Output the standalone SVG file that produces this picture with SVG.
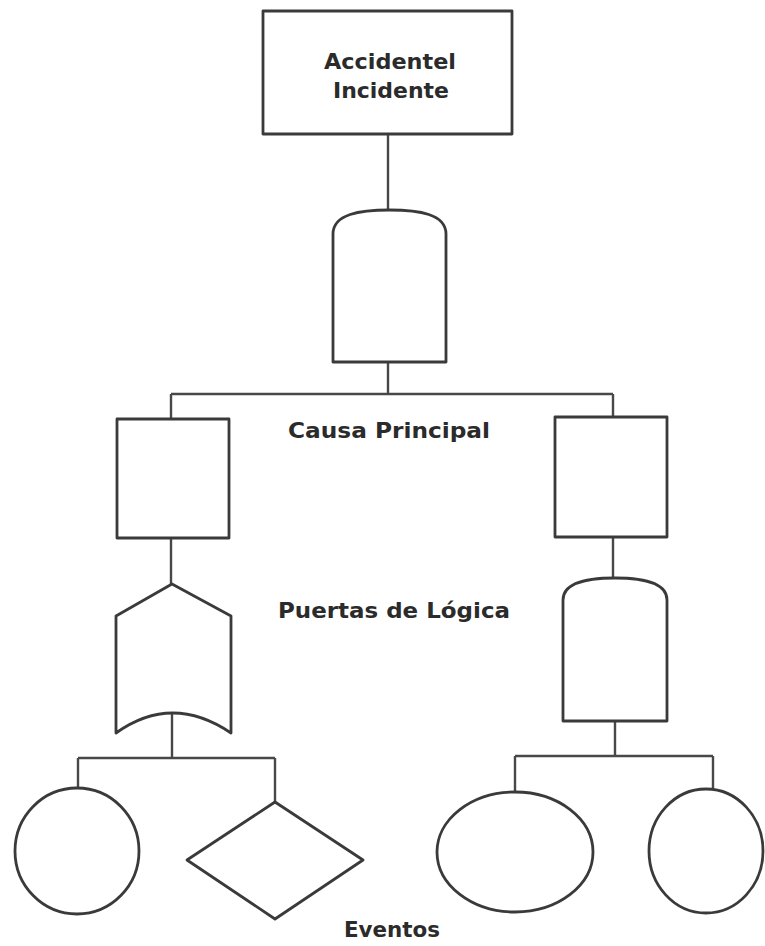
<svg xmlns="http://www.w3.org/2000/svg" width="765" height="946" viewBox="0 0 765 946">
<style>
.shape{fill:#fff;stroke:#3a3a3a;stroke-width:2.8;stroke-linejoin:round}
.conn{fill:none;stroke:#484848;stroke-width:2.4}
.lbl{font-family:"DejaVu Sans",sans-serif;font-weight:bold;fill:#2b2b2b;font-size:21px}
</style>
<rect width="765" height="946" fill="#fff"/>
<g id="connectors">
<path class="conn" d="M388,134 V210 M388,362 V394 M171,394 H613 M171,394 V419 M613,394 V417 M171,538 V584 M613,537 V578 M172,713 V758 M78,758 H275 M78,758 V788 M275,758 V802 M615,721 V756 M515,756 H713 M515,756 V792 M713,756 V789"/>
</g>
<g id="top-event">
<rect class="shape" x="263" y="11" width="249" height="123"/>
<text class="lbl" x="390" y="69" text-anchor="middle" font-size="23" textLength="132" lengthAdjust="spacingAndGlyphs">Accidentel</text>
<text class="lbl" x="391" y="98" text-anchor="middle" font-size="23" textLength="116" lengthAdjust="spacingAndGlyphs">Incidente</text>
</g>
<g id="and-gate-top">
<path class="shape" d="M333,362 V234 C333,214 360,210 389.5,210 C419,210 446,214 446,234 V362 Z"/>
</g>
<g id="cause-left">
<rect class="shape" x="117" y="419" width="112" height="119"/>
</g>
<g id="cause-right">
<rect class="shape" x="555" y="417" width="112" height="120"/>
</g>
<g id="or-gate">
<path class="shape" d="M116,733 V616 L172,584 L231,616 V733 Q172,693 116,733 Z"/>
</g>
<g id="and-gate-right">
<path class="shape" d="M563,721 V600 C563,582 588,578 615,578 C642,578 667,582 667,600 V721 Z"/>
</g>
<g id="event-circle-left">
<ellipse class="shape" cx="77" cy="851" rx="62" ry="63"/>
</g>
<g id="event-diamond">
<polygon class="shape" points="275,802 363,860 275,919 187,860"/>
</g>
<g id="event-ellipse">
<ellipse class="shape" cx="515" cy="852" rx="78" ry="60"/>
</g>
<g id="event-circle-right">
<ellipse class="shape" cx="706" cy="851" rx="57" ry="62"/>
</g>
<g id="labels">
<text class="lbl" x="288" y="438" textLength="202" lengthAdjust="spacingAndGlyphs">Causa Principal</text>
<text class="lbl" x="278" y="618" textLength="232" lengthAdjust="spacingAndGlyphs">Puertas de Lógica</text>
<text class="lbl" x="344" y="937" textLength="96" lengthAdjust="spacingAndGlyphs">Eventos</text>
</g>
</svg>
